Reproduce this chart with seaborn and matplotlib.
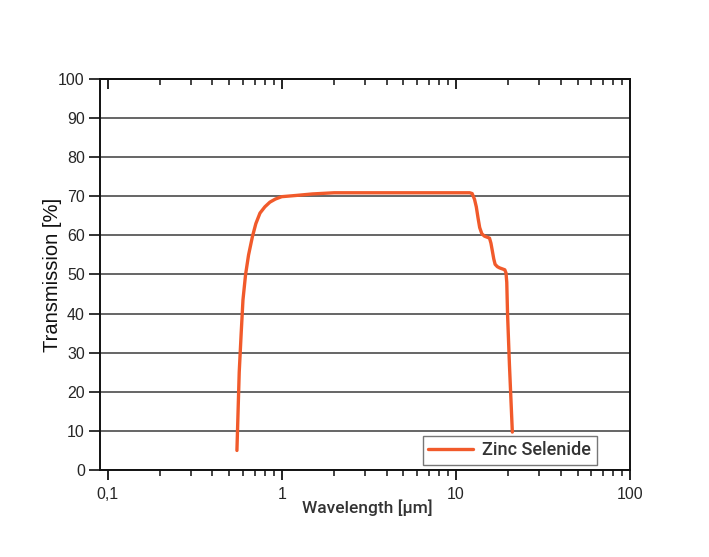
import matplotlib
matplotlib.use("Agg")
import matplotlib.pyplot as plt
import matplotlib.ticker as mticker
import seaborn as sns
import pandas as pd
import numpy as np

# ---- data ----
wavelength_um = [0.553, 0.570, 0.585, 0.599, 0.620, 0.645, 0.678, 0.710, 0.750,
                 0.800, 0.855, 0.920, 1.00, 1.20, 1.50, 2.00, 5.00, 12.0, 12.4,
                 12.8, 13.1, 13.4, 13.7, 14.1, 14.6, 15.6, 15.9, 16.2, 16.5,
                 16.8, 17.3, 17.8, 19.1, 19.4, 19.6, 19.8, 20.3, 21.1]
transmission = [5.0, 25.0, 35.0, 43.5, 50.0, 55.0, 59.6, 63.0, 65.7,
                67.3, 68.5, 69.3, 69.9, 70.2, 70.6, 70.9, 70.9, 70.9, 70.7,
                69.2, 67.3, 64.5, 62.0, 60.4, 59.8, 59.3, 58.0, 56.0, 54.0,
                52.6, 52.0, 51.7, 51.2, 50.4, 48.0, 40.0, 27.0, 9.7]
series_name = "Zinc Selenide"
x_ticks = [0.1, 1, 10, 100]
x_ticklabels = ["0,1", "1", "10", "100"]
y_ticks = list(range(0, 101, 10))

df = pd.DataFrame({"Wavelength": wavelength_um, "Transmission": transmission,
                   "Material": series_name})

sns.set_style("white")
plt.rcParams["font.family"] = ["Liberation Sans", "DejaVu Sans"]

fig = plt.figure(figsize=(7.09, 5.57), dpi=100)
ax = fig.add_axes([0.1411, 0.1562, 0.7475, 0.702])

sns.lineplot(data=df, x="Wavelength", y="Transmission", hue="Material",
             palette=["#F15A2B"], linewidth=2.4, ax=ax, sort=False,
             estimator=None)

ax.set_xscale("log")
ax.set_xlim(0.0905, 100)
ax.set_ylim(0, 100)

ax.set_xticks(x_ticks)
ax.set_xticklabels(x_ticklabels)
ax.xaxis.set_minor_locator(mticker.LogLocator(base=10, subs=np.arange(2, 10)))
ax.xaxis.set_minor_formatter(mticker.NullFormatter())
ax.set_yticks(y_ticks)

ax.yaxis.grid(True, color="#3c3c3c", linewidth=1.1)
ax.xaxis.grid(False)
ax.set_axisbelow(True)

for s in ax.spines.values():
    s.set_color("#111111")
    s.set_linewidth(1.4)
    s.set_visible(True)

ax.tick_params(axis="x", which="major", direction="out", length=7, width=1.3,
               top=False, bottom=True, labelsize=11.5, pad=5, color="#111111")
ax.tick_params(axis="x", which="minor", direction="out", length=4, width=1.1,
               top=False, bottom=True, color="#111111")
ax.tick_params(axis="y", which="major", direction="out", length=8, width=1.2,
               left=True, right=False, labelsize=11.5, pad=3, color="#111111")

# top axis with inward ticks
top = ax.secondary_xaxis("top")
top.set_xticks(x_ticks)
top.xaxis.set_minor_locator(mticker.LogLocator(base=10, subs=np.arange(2, 10)))
top.xaxis.set_minor_formatter(mticker.NullFormatter())
top.tick_params(axis="x", which="major", direction="in", length=7, width=1.3,
                labeltop=False, color="#111111")
top.tick_params(axis="x", which="minor", direction="in", length=4, width=1.1,
                color="#111111")
top.spines["top"].set_linewidth(1.4)
top.spines["top"].set_color("#111111")

ax.set_xlabel("Wavelength [µm]", fontsize=12.5, color="#333333",
              family=["Roboto"], fontweight="medium")
ax.xaxis.set_label_coords(0.504, -0.097)
ax.xaxis.label.set_va("center")
ax.set_ylabel("Transmission [%]", fontsize=14.5, color="#111111")
ax.yaxis.set_label_coords(-0.072, 0.5)

leg = ax.legend(loc="lower right", bbox_to_anchor=(0.937, 0.013),
                borderaxespad=0.0,
                frameon=True, fancybox=False, edgecolor="#555555",
                handlelength=2.5, borderpad=0.3, handletextpad=0.5,
                prop={"family": ["Roboto"], "size": 13, "weight": "medium"})
leg.get_frame().set_linewidth(1.0)
for txt in leg.get_texts():
    txt.set_color("#333333")
for ln in leg.get_lines():
    ln.set_linewidth(2.4)

fig.savefig("out.png", dpi=100)
